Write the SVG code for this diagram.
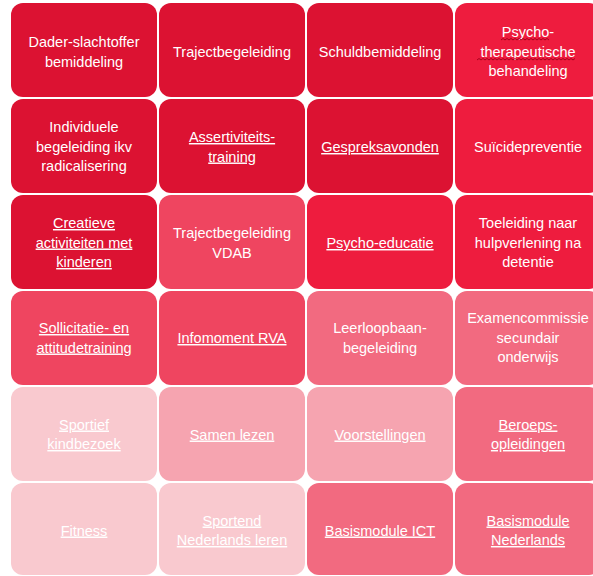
<svg xmlns="http://www.w3.org/2000/svg" width="593" height="576" viewBox="0 0 593 576">
<style>
.c{stroke:none}
.d{fill:#DC1232}
.b{fill:#EE1C3E}
.m{fill:#EF4560}
.l{fill:#F26A80}
.p{fill:#F6A4B0}
.q{fill:#F9C9CF}
text{font-family:"Liberation Sans",Arial,sans-serif;font-size:14.5px;fill:#FFFFFF;text-anchor:middle}
.u{text-decoration:underline}
.sq{fill:none;stroke:#A8001C;stroke-width:1}
</style>
<rect width="593" height="576" fill="#FFFFFF"/>
<g id="connectors"/>
<g id="n1"><rect class="c d" x="11" y="3" width="146" height="94" rx="12"/><text x="84" y="47">Dader-slachtoffer</text><text x="84" y="66.5">bemiddeling</text></g>
<g id="n2"><rect class="c d" x="159" y="3" width="146" height="94" rx="12"/><text x="232" y="56.5">Trajectbegeleiding</text></g>
<g id="n3"><rect class="c d" x="307" y="3" width="146" height="94" rx="12"/><text x="380" y="56.5">Schuldbemiddeling</text></g>
<g id="n4"><rect class="c b" x="455" y="3" width="146" height="94" rx="12"/><text x="528" y="37">Psycho-</text><text x="528" y="56.5">therapeutische</text><text x="528" y="76">behandeling</text>
<path class="sq" d="M501 40 l2 -1.5 l2 1.5 l2 -1.5 l2 1.5 l2 -1.5 l2 1.5 l2 -1.5 l2 1.5 l2 -1.5 l2 1.5 l2 -1.5 l2 1.5 l2 -1.5 l2 1.5 l2 -1.5 l2 1.5 l2 -1.5 l2 1.5 l2 -1.5 l2 1.5 l2 -1.5 l2 1.5 l2 -1.5 l2 1.5"/>
<path class="sq" d="M477 60 l2 -1.5 l2 1.5 l2 -1.5 l2 1.5 l2 -1.5 l2 1.5 l2 -1.5 l2 1.5 l2 -1.5 l2 1.5 l2 -1.5 l2 1.5 l2 -1.5 l2 1.5 l2 -1.5 l2 1.5 l2 -1.5 l2 1.5 l2 -1.5 l2 1.5 l2 -1.5 l2 1.5 l2 -1.5 l2 1.5 l2 -1.5 l2 1.5 l2 -1.5 l2 1.5 l2 -1.5 l2 1.5 l2 -1.5 l2 1.5 l2 -1.5 l2 1.5 l2 -1.5 l2 1.5 l2 -1.5 l2 1.5 l2 -1.5 l2 1.5 l2 -1.5 l2 1.5 l2 -1.5 l2 1.5 l2 -1.5 l2 1.5 l2 -1.5 l2 1.5 l2 -1.5"/></g>

<g id="n5"><rect class="c d" x="11" y="99" width="146" height="94" rx="12"/><text x="84" y="132">Individuele</text><text x="84" y="151.5">begeleiding ikv</text><text x="84" y="171">radicalisering</text></g>
<g id="n6"><rect class="c d" x="159" y="99" width="146" height="94" rx="12"/><text class="u" x="232" y="142">Assertiviteits-</text><text class="u" x="232" y="161.5">training</text></g>
<g id="n7"><rect class="c d" x="307" y="99" width="146" height="94" rx="12"/><text class="u" x="380" y="152">Gespreksavonden</text></g>
<g id="n8"><rect class="c b" x="455" y="99" width="146" height="94" rx="12"/><text x="528" y="152">Suïcidepreventie</text></g>

<g id="n9"><rect class="c d" x="11" y="195" width="146" height="94" rx="12"/><text class="u" x="84" y="228">Creatieve</text><text class="u" x="84" y="247.5">activiteiten met</text><text class="u" x="84" y="267">kinderen</text></g>
<g id="n10"><rect class="c m" x="159" y="195" width="146" height="94" rx="12"/><text x="232" y="238">Trajectbegeleiding</text><text x="232" y="257.5">VDAB</text></g>
<g id="n11"><rect class="c b" x="307" y="195" width="146" height="94" rx="12"/><text class="u" x="380" y="248">Psycho-educatie</text></g>
<g id="n12"><rect class="c b" x="455" y="195" width="146" height="94" rx="12"/><text x="528" y="228">Toeleiding naar</text><text x="528" y="247.5">hulpverlening na</text><text x="528" y="267">detentie</text></g>

<g id="n13"><rect class="c m" x="11" y="291" width="146" height="94" rx="12"/><text class="u" x="84" y="333">Sollicitatie- en</text><text class="u" x="84" y="352.5">attitudetraining</text></g>
<g id="n14"><rect class="c m" x="159" y="291" width="146" height="94" rx="12"/><text class="u" x="232" y="343">Infomoment RVA</text></g>
<g id="n15"><rect class="c l" x="307" y="291" width="146" height="94" rx="12"/><text x="380" y="333">Leerloopbaan-</text><text x="380" y="352.5">begeleiding</text></g>
<g id="n16"><rect class="c l" x="455" y="291" width="146" height="94" rx="12"/><text x="528" y="323">Examencommissie</text><text x="528" y="342.5">secundair</text><text x="528" y="362">onderwijs</text></g>

<g id="n17"><rect class="c q" x="11" y="387" width="146" height="94" rx="12"/><text class="u" x="84" y="429.5">Sportief</text><text class="u" x="84" y="449">kindbezoek</text></g>
<g id="n18"><rect class="c p" x="159" y="387" width="146" height="94" rx="12"/><text class="u" x="232" y="439.5">Samen lezen</text></g>
<g id="n19"><rect class="c p" x="307" y="387" width="146" height="94" rx="12"/><text class="u" x="380" y="439.5">Voorstellingen</text></g>
<g id="n20"><rect class="c l" x="455" y="387" width="146" height="94" rx="12"/><text class="u" x="528" y="429.5">Beroeps-</text><text class="u" x="528" y="449">opleidingen</text></g>

<g id="n21"><rect class="c q" x="11" y="483" width="146" height="92" rx="12"/><text class="u" x="84" y="535.5">Fitness</text></g>
<g id="n22"><rect class="c q" x="159" y="483" width="146" height="92" rx="12"/><text class="u" x="232" y="525.5">Sportend</text><text class="u" x="232" y="545">Nederlands leren</text></g>
<g id="n23"><rect class="c l" x="307" y="483" width="146" height="92" rx="12"/><text class="u" x="380" y="535.5">Basismodule ICT</text></g>
<g id="n24"><rect class="c l" x="455" y="483" width="146" height="92" rx="12"/><text class="u" x="528" y="525.5">Basismodule</text><text class="u" x="528" y="545">Nederlands</text></g>
</svg>
